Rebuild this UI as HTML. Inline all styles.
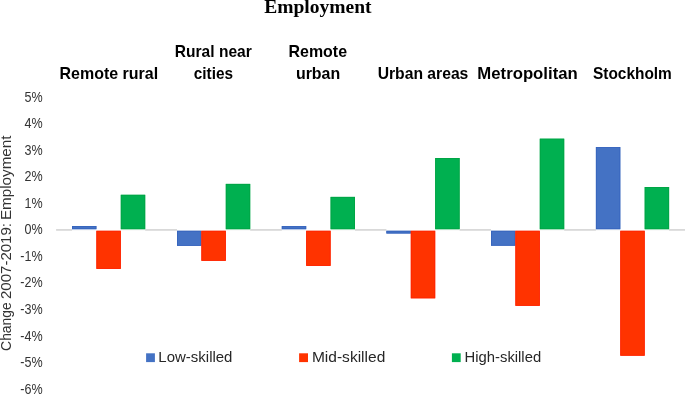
<!DOCTYPE html>
<html><head><meta charset="utf-8"><title>Employment</title>
<style>html,body{margin:0;padding:0;background:#fff;width:685px;height:394px;overflow:hidden}svg{display:block;will-change:transform}text{font-kerning:none}</style>
</head><body>
<svg width="685" height="394" viewBox="0 0 685 394">
<rect x="0" y="0" width="685" height="394" fill="#fff"/>
<rect x="56.10" y="229.00" width="628.90" height="1.80" fill="#d9d9d9"/>
<rect x="72.00" y="229.00" width="73.20" height="1.80" fill="#fff"/>
<rect x="72.00" y="226.00" width="24.40" height="3.20" fill="#4472c4"/>
<rect x="72.40" y="226.40" width="23.60" height="2.40" fill="none" stroke="#3563bd" stroke-width="0.80"/>
<rect x="96.40" y="230.80" width="24.40" height="38.10" fill="#ff3300"/>
<rect x="96.80" y="231.20" width="23.60" height="37.30" fill="none" stroke="#ff2200" stroke-width="0.80"/>
<rect x="120.80" y="194.80" width="24.40" height="34.40" fill="#00b050"/>
<rect x="121.20" y="195.20" width="23.60" height="33.60" fill="none" stroke="#00a343" stroke-width="0.80"/>
<rect x="177.00" y="229.00" width="73.20" height="1.80" fill="#fff"/>
<rect x="177.00" y="230.80" width="24.40" height="15.00" fill="#4472c4"/>
<rect x="177.40" y="231.20" width="23.60" height="14.20" fill="none" stroke="#3563bd" stroke-width="0.80"/>
<rect x="201.40" y="230.80" width="24.40" height="30.00" fill="#ff3300"/>
<rect x="201.80" y="231.20" width="23.60" height="29.20" fill="none" stroke="#ff2200" stroke-width="0.80"/>
<rect x="225.80" y="183.90" width="24.40" height="45.30" fill="#00b050"/>
<rect x="226.20" y="184.30" width="23.60" height="44.50" fill="none" stroke="#00a343" stroke-width="0.80"/>
<rect x="281.80" y="229.00" width="73.20" height="1.80" fill="#fff"/>
<rect x="281.80" y="226.10" width="24.40" height="3.10" fill="#4472c4"/>
<rect x="282.20" y="226.50" width="23.60" height="2.30" fill="none" stroke="#3563bd" stroke-width="0.80"/>
<rect x="306.20" y="230.80" width="24.40" height="35.10" fill="#ff3300"/>
<rect x="306.60" y="231.20" width="23.60" height="34.30" fill="none" stroke="#ff2200" stroke-width="0.80"/>
<rect x="330.60" y="196.90" width="24.40" height="32.30" fill="#00b050"/>
<rect x="331.00" y="197.30" width="23.60" height="31.50" fill="none" stroke="#00a343" stroke-width="0.80"/>
<rect x="386.40" y="229.00" width="73.20" height="1.80" fill="#fff"/>
<rect x="386.40" y="230.80" width="24.40" height="2.70" fill="#4472c4"/>
<rect x="386.80" y="231.20" width="23.60" height="1.90" fill="none" stroke="#3563bd" stroke-width="0.80"/>
<rect x="410.80" y="230.80" width="24.40" height="67.50" fill="#ff3300"/>
<rect x="411.20" y="231.20" width="23.60" height="66.70" fill="none" stroke="#ff2200" stroke-width="0.80"/>
<rect x="435.20" y="158.00" width="24.40" height="71.20" fill="#00b050"/>
<rect x="435.60" y="158.40" width="23.60" height="70.40" fill="none" stroke="#00a343" stroke-width="0.80"/>
<rect x="491.00" y="229.00" width="73.20" height="1.80" fill="#fff"/>
<rect x="491.00" y="230.80" width="24.40" height="14.90" fill="#4472c4"/>
<rect x="491.40" y="231.20" width="23.60" height="14.10" fill="none" stroke="#3563bd" stroke-width="0.80"/>
<rect x="515.40" y="230.80" width="24.40" height="75.00" fill="#ff3300"/>
<rect x="515.80" y="231.20" width="23.60" height="74.20" fill="none" stroke="#ff2200" stroke-width="0.80"/>
<rect x="539.80" y="138.70" width="24.40" height="90.50" fill="#00b050"/>
<rect x="540.20" y="139.10" width="23.60" height="89.70" fill="none" stroke="#00a343" stroke-width="0.80"/>
<rect x="595.90" y="229.00" width="73.20" height="1.80" fill="#fff"/>
<rect x="595.90" y="147.10" width="24.40" height="82.10" fill="#4472c4"/>
<rect x="596.30" y="147.50" width="23.60" height="81.30" fill="none" stroke="#3563bd" stroke-width="0.80"/>
<rect x="620.30" y="230.80" width="24.40" height="124.90" fill="#ff3300"/>
<rect x="620.70" y="231.20" width="23.60" height="124.10" fill="none" stroke="#ff2200" stroke-width="0.80"/>
<rect x="644.70" y="187.00" width="24.40" height="42.20" fill="#00b050"/>
<rect x="645.10" y="187.40" width="23.60" height="41.40" fill="none" stroke="#00a343" stroke-width="0.80"/>
<text x="24.48" y="101.50" font-family="Liberation Sans" font-weight="normal" font-size="14.50" fill="#333333" textLength="18.17" lengthAdjust="spacingAndGlyphs">5%</text>
<text x="24.48" y="128.07" font-family="Liberation Sans" font-weight="normal" font-size="14.50" fill="#333333" textLength="18.17" lengthAdjust="spacingAndGlyphs">4%</text>
<text x="24.48" y="154.64" font-family="Liberation Sans" font-weight="normal" font-size="14.50" fill="#333333" textLength="18.17" lengthAdjust="spacingAndGlyphs">3%</text>
<text x="24.48" y="181.21" font-family="Liberation Sans" font-weight="normal" font-size="14.50" fill="#333333" textLength="18.17" lengthAdjust="spacingAndGlyphs">2%</text>
<text x="24.48" y="207.78" font-family="Liberation Sans" font-weight="normal" font-size="14.50" fill="#333333" textLength="18.17" lengthAdjust="spacingAndGlyphs">1%</text>
<text x="24.48" y="234.35" font-family="Liberation Sans" font-weight="normal" font-size="14.50" fill="#333333" textLength="18.17" lengthAdjust="spacingAndGlyphs">0%</text>
<text x="20.29" y="260.92" font-family="Liberation Sans" font-weight="normal" font-size="14.50" fill="#333333" textLength="22.36" lengthAdjust="spacingAndGlyphs">-1%</text>
<text x="20.29" y="287.49" font-family="Liberation Sans" font-weight="normal" font-size="14.50" fill="#333333" textLength="22.36" lengthAdjust="spacingAndGlyphs">-2%</text>
<text x="20.29" y="314.06" font-family="Liberation Sans" font-weight="normal" font-size="14.50" fill="#333333" textLength="22.36" lengthAdjust="spacingAndGlyphs">-3%</text>
<text x="20.29" y="340.63" font-family="Liberation Sans" font-weight="normal" font-size="14.50" fill="#333333" textLength="22.36" lengthAdjust="spacingAndGlyphs">-4%</text>
<text x="20.29" y="367.20" font-family="Liberation Sans" font-weight="normal" font-size="14.50" fill="#333333" textLength="22.36" lengthAdjust="spacingAndGlyphs">-5%</text>
<text x="20.29" y="393.77" font-family="Liberation Sans" font-weight="normal" font-size="14.50" fill="#333333" textLength="22.36" lengthAdjust="spacingAndGlyphs">-6%</text>
<text x="59.53" y="78.60" font-family="Liberation Sans" font-weight="bold" font-size="16.30" fill="#000" textLength="98.60" lengthAdjust="spacingAndGlyphs">Remote rural</text>
<text x="174.86" y="56.90" font-family="Liberation Sans" font-weight="bold" font-size="16.30" fill="#000" textLength="76.87" lengthAdjust="spacingAndGlyphs">Rural near</text>
<text x="193.80" y="78.60" font-family="Liberation Sans" font-weight="bold" font-size="16.30" fill="#000" textLength="39.23" lengthAdjust="spacingAndGlyphs">cities</text>
<text x="288.53" y="56.90" font-family="Liberation Sans" font-weight="bold" font-size="16.30" fill="#000" textLength="58.51" lengthAdjust="spacingAndGlyphs">Remote</text>
<text x="295.91" y="78.60" font-family="Liberation Sans" font-weight="bold" font-size="16.30" fill="#000" textLength="44.28" lengthAdjust="spacingAndGlyphs">urban</text>
<text x="377.66" y="78.60" font-family="Liberation Sans" font-weight="bold" font-size="16.30" fill="#000" textLength="90.69" lengthAdjust="spacingAndGlyphs">Urban areas</text>
<text x="477.38" y="78.60" font-family="Liberation Sans" font-weight="bold" font-size="16.30" fill="#000" textLength="100.36" lengthAdjust="spacingAndGlyphs">Metropolitan</text>
<text x="592.96" y="78.60" font-family="Liberation Sans" font-weight="bold" font-size="16.30" fill="#000" textLength="78.90" lengthAdjust="spacingAndGlyphs">Stockholm</text>
<text x="264.17" y="12.80" font-family="Liberation Serif" font-weight="bold" font-size="19.50" fill="#000" textLength="107.42" lengthAdjust="spacingAndGlyphs">Employment</text>
<text x="158.37" y="362.20" font-family="Liberation Sans" font-weight="normal" font-size="15.00" fill="#262626" textLength="74.09" lengthAdjust="spacingAndGlyphs">Low-skilled</text>
<text x="311.93" y="362.20" font-family="Liberation Sans" font-weight="normal" font-size="15.00" fill="#262626" textLength="73.38" lengthAdjust="spacingAndGlyphs">Mid-skilled</text>
<text x="464.58" y="362.20" font-family="Liberation Sans" font-weight="normal" font-size="15.00" fill="#262626" textLength="76.57" lengthAdjust="spacingAndGlyphs">High-skilled</text>
<text transform="translate(11.40 0) rotate(-90)" x="-350.91" y="0" font-family="Liberation Sans" font-weight="normal" font-size="15.50" fill="#333333" textLength="48.72" lengthAdjust="spacingAndGlyphs">Change</text>
<text transform="translate(11.40 0) rotate(-90)" x="-299.06" y="0" font-family="Liberation Sans" font-weight="normal" font-size="15.50" fill="#333333" textLength="76.03" lengthAdjust="spacingAndGlyphs">2007-2019:</text>
<text transform="translate(11.40 0) rotate(-90)" x="-220.05" y="0" font-family="Liberation Sans" font-weight="normal" font-size="15.50" fill="#333333" textLength="84.56" lengthAdjust="spacingAndGlyphs">Employment</text>
<rect x="146.10" y="353.30" width="8.80" height="8.80" fill="#4472c4"/>
<rect x="299.10" y="353.30" width="8.90" height="8.80" fill="#ff3300"/>
<rect x="451.90" y="353.30" width="8.80" height="8.80" fill="#00b050"/>
</svg>
</body></html>
